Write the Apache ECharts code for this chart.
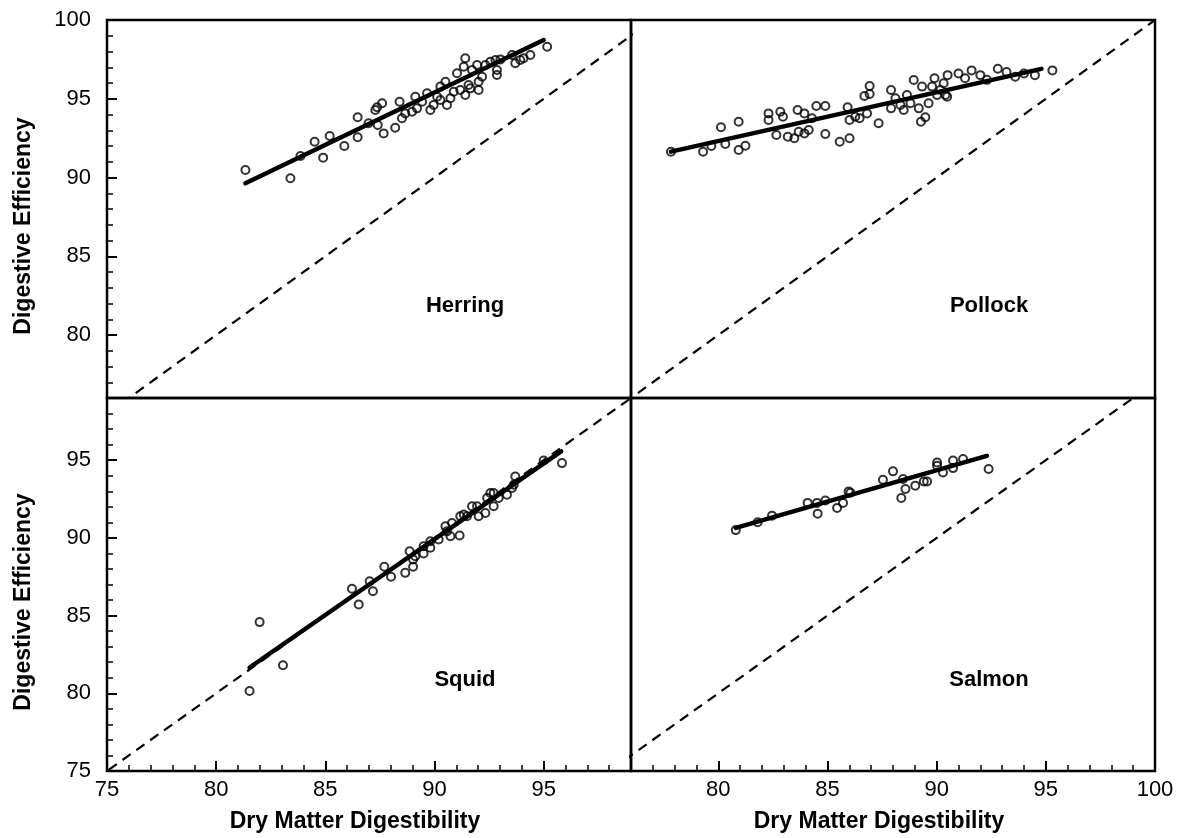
<!DOCTYPE html>
<html>
<head>
<meta charset="utf-8">
<script src="https://cdn.jsdelivr.net/npm/echarts@6/dist/echarts.min.js"></script>
<style>
html,body{margin:0;padding:0;background:#fff;}
#chart{width:1178px;height:838px;}
</style>
</head>
<body>
<div id="chart"></div>
<script>
// ---- Data ----
const herringDMD = [81.34,83.4,83.86,84.51,84.9,85.2,85.87,86.48,86.48,86.98,87.29,87.6,87.4,87.67,87.37,88.2,88.4,88.51,88.66,88.97,89.12,89.2,89.43,89.66,89.81,89.96,90.12,90.27,90.27,90.5,90.57,90.73,90.88,91.03,91.18,91.34,91.41,91.41,91.56,91.64,91.72,91.95,92.02,92.02,92.18,92.33,92.56,92.79,92.86,92.86,93.02,93.55,93.7,93.93,94.08,94.39,95.16];
const herringDE  = [90.48,89.95,91.37,92.27,91.26,92.63,92.0,92.55,93.82,93.44,94.29,94.71,93.33,92.8,94.46,93.16,94.81,93.76,94.07,94.18,95.13,94.39,94.81,95.35,94.29,94.6,95.13,94.92,95.77,96.08,94.6,95.03,95.45,96.62,95.56,97.03,97.57,95.24,95.87,95.66,96.83,97.14,95.56,96.08,96.4,97.14,97.35,97.46,96.83,96.51,97.5,97.78,97.25,97.46,97.57,97.78,98.3];

const pollockDMD = [77.83,79.3,79.68,80.12,80.32,80.93,80.93,81.24,82.3,82.3,82.66,82.84,82.96,83.18,83.48,83.63,83.68,83.94,83.94,84.14,84.29,84.49,84.9,84.9,85.56,85.92,86.01,86.01,86.27,86.47,86.81,86.69,86.93,86.93,87.34,87.91,87.91,88.11,88.34,88.49,88.64,88.8,88.95,89.18,89.28,89.48,89.63,89.33,89.79,90.02,90.17,90.4,90.48,90.32,89.9,90.5,91.0,91.3,91.6,92.0,92.3,92.8,93.2,93.6,94.0,94.5,95.3];
const pollockDE  = [91.64,91.64,92.0,93.19,92.13,93.54,91.75,92.02,94.07,93.65,92.7,94.18,93.86,92.59,92.49,94.29,92.91,94.07,92.8,93.02,93.76,94.54,94.54,92.76,92.27,94.46,92.49,93.65,93.86,93.76,94.07,95.17,95.3,95.81,93.44,95.56,94.39,95.03,94.6,94.29,95.24,94.71,96.19,94.39,93.54,93.82,94.71,95.77,95.77,95.24,95.56,95.24,95.13,95.98,96.3,96.5,96.6,96.3,96.8,96.5,96.2,96.9,96.7,96.4,96.6,96.5,96.8];

const squidDMD = [81.53,81.99,83.06,86.22,86.53,87.03,87.18,87.7,88.01,88.66,88.86,89.02,89.02,89.12,89.5,89.5,89.81,89.81,90.19,90.5,90.57,90.73,90.8,91.15,91.18,91.34,91.49,91.72,91.95,92.02,92.33,92.41,92.56,92.71,92.71,92.94,93.32,93.55,93.7,93.63,95.0,95.84];
const squidDE  = [80.15,84.58,81.8,86.73,85.72,87.21,86.57,88.14,87.5,87.75,89.14,88.14,88.61,88.82,88.99,89.46,89.36,89.78,89.89,90.74,90.42,90.1,90.96,90.15,91.39,91.5,91.39,92.03,92.03,91.39,91.6,92.57,92.89,92.89,92.03,92.57,92.78,93.21,93.95,93.42,94.98,94.81];

const salmonDMD = [80.8,81.8,82.46,84.09,84.55,84.52,84.9,85.44,85.71,85.97,86.05,87.54,88.0,88.38,88.57,88.46,89.02,89.41,89.56,90.02,90.02,90.29,90.75,90.75,91.21,92.38];
const salmonDE  = [90.5,91.0,91.43,92.25,91.56,92.25,92.41,91.93,92.25,92.99,92.9,93.74,94.28,92.57,93.15,93.79,93.36,93.63,93.63,94.85,94.64,94.21,94.98,94.49,95.07,94.43];

// Regression line end points
const herringLineX = [81.34, 95.0],  herringLineY = [89.63, 98.73];
const pollockLineX = [77.83, 94.8],  pollockLineY = [91.64, 96.9];
const squidLineX   = [81.53, 95.8],  squidLineY   = [81.66, 95.56];
const salmonLineX  = [80.8, 92.3],   salmonLineY  = [90.64, 95.28];

// 1:1 reference line
const oneToOne = [70, 100];

// Axis ranges and tick labels
const xRangeLeft = [75, 99], xRangeRight = [76, 100];
const yRangeTop = [76, 100], yRangeBottom = [75, 99];
const xTicksLeft = [75, 80, 85, 90, 95];
const xTicksRight = [80, 85, 90, 95, 100];
const yTicksTop = [80, 85, 90, 95, 100];
const yTicksBottom = [75, 80, 85, 90, 95];

const panelNames = ['Herring', 'Pollock', 'Squid', 'Salmon'];
const xTitle = 'Dry Matter Digestibility';
const yTitle = 'Digestive Efficiency';

// ---- Layout ----
const L = 107, M = 631, R = 1155, T = 20, H = 398, B = 771;
const FONT = "'Liberation Sans', Arial, Helvetica, sans-serif";

function zip(a, b) { return a.map((v, i) => [v, b[i]]); }

const grids = [
  {left: L, top: T, width: M - L, height: H - T},
  {left: M, top: T, width: R - M, height: H - T},
  {left: L, top: H, width: M - L, height: B - H},
  {left: M, top: H, width: R - M, height: B - H}
].map(g => Object.assign(g, {show: true, borderColor: '#000', borderWidth: 2.5, backgroundColor: 'transparent', containLabel: false}));

const hidden = {axisLine: {show: false}, axisTick: {show: false}, axisLabel: {show: false}, splitLine: {show: false}};
const labelStyle = {color: '#000', fontSize: 22, fontFamily: FONT};

function minorAxis(gi, range, ticks, withLabels, pos) {
  return {
    type: 'value', gridIndex: gi, min: range[0], max: range[1], interval: 1,
    position: pos, offset: 0,
    axisLine: {show: false, onZero: false}, splitLine: {show: false},
    axisTick: {show: true, inside: true, length: 6, lineStyle: {color: '#000', width: 1.5}},
    axisLabel: withLabels ? Object.assign({show: true, margin: 8, customValues: ticks,
      formatter: v => (ticks.indexOf(v) >= 0 ? String(v) : '')}, labelStyle) : {show: false}
  };
}
function majorAxis(gi, range, ticks, pos) {
  return {
    type: 'value', gridIndex: gi, min: range[0], max: range[1],
    position: pos, offset: 0,
    axisLine: {show: false, onZero: false}, splitLine: {show: false},
    axisTick: {show: true, inside: true, length: 10, customValues: ticks, lineStyle: {color: '#000', width: 2}},
    axisLabel: {show: false}
  };
}

const xAxis = [
  Object.assign({type: 'value', gridIndex: 0, min: xRangeLeft[0], max: xRangeLeft[1], position: 'bottom'}, hidden),
  Object.assign({type: 'value', gridIndex: 1, min: xRangeRight[0], max: xRangeRight[1], position: 'bottom'}, hidden),
  minorAxis(2, xRangeLeft, xTicksLeft, true, 'bottom'),
  minorAxis(3, xRangeRight, xTicksRight, true, 'bottom'),
  majorAxis(2, xRangeLeft, xTicksLeft, 'bottom'),
  majorAxis(3, xRangeRight, xTicksRight, 'bottom')
];
const yAxis = [
  minorAxis(0, yRangeTop, yTicksTop, true, 'left'),
  Object.assign({type: 'value', gridIndex: 1, min: yRangeTop[0], max: yRangeTop[1], position: 'left'}, hidden),
  minorAxis(2, yRangeBottom, yTicksBottom, true, 'left'),
  Object.assign({type: 'value', gridIndex: 3, min: yRangeBottom[0], max: yRangeBottom[1], position: 'left'}, hidden),
  majorAxis(0, yRangeTop, yTicksTop, 'left'),
  majorAxis(2, yRangeBottom, yTicksBottom, 'left')
];
yAxis[0].axisLabel.margin = 16;
yAxis[2].axisLabel.margin = 16;

const panels = [
  {dmd: herringDMD, de: herringDE, lx: herringLineX, ly: herringLineY, xi: 0, yi: 0},
  {dmd: pollockDMD, de: pollockDE, lx: pollockLineX, ly: pollockLineY, xi: 1, yi: 1},
  {dmd: squidDMD, de: squidDE, lx: squidLineX, ly: squidLineY, xi: 2, yi: 2},
  {dmd: salmonDMD, de: salmonDE, lx: salmonLineX, ly: salmonLineY, xi: 3, yi: 3}
];

const series = [];
panels.forEach(p => {
  series.push({
    type: 'line', xAxisIndex: p.xi, yAxisIndex: p.yi, data: zip(oneToOne, oneToOne),
    showSymbol: false, symbol: 'none', clip: true, z: 1, silent: true,
    lineStyle: {color: '#000', width: 2.2, type: [10, 7]}
  });
  series.push({
    type: 'scatter', xAxisIndex: p.xi, yAxisIndex: p.yi, data: zip(p.dmd, p.de),
    symbol: 'circle', symbolSize: 8, z: 2,
    itemStyle: {color: 'rgba(255,255,255,0)', borderColor: '#000', borderWidth: 2}
  });
  series.push({
    type: 'line', xAxisIndex: p.xi, yAxisIndex: p.yi, data: zip(p.lx, p.ly),
    showSymbol: false, symbol: 'none', z: 3,
    lineStyle: {color: '#000', width: 4.5, cap: 'round'}
  });
});

const panelCenters = [[465, 306], [989, 306], [465, 680], [989, 680]];
const graphic = [];
panelNames.forEach((n, i) => {
  graphic.push({type: 'text', x: panelCenters[i][0], y: panelCenters[i][1], z: 10,
    style: {text: n, font: 'bold 22px ' + FONT, fill: '#000', textAlign: 'center', textVerticalAlign: 'middle'}});
});
[[355, 822], [879, 822]].forEach(p => {
  graphic.push({type: 'text', x: p[0], y: p[1], z: 10,
    style: {text: xTitle, font: 'bold 23px ' + FONT, fill: '#000', textAlign: 'center', textVerticalAlign: 'middle'}});
});
[[24, 226], [24, 602]].forEach(p => {
  graphic.push({type: 'text', x: p[0], y: p[1], rotation: Math.PI / 2, z: 10,
    style: {text: yTitle, font: 'bold 23px ' + FONT, fill: '#000', textAlign: 'center', textVerticalAlign: 'middle'}});
});

const chart = echarts.init(document.getElementById('chart'), null, {renderer: 'canvas'});
chart.setOption({
  backgroundColor: '#fff',
  animation: false,
  grid: grids,
  xAxis: xAxis,
  yAxis: yAxis,
  series: series,
  graphic: graphic
});
</script>
</body>
</html>
